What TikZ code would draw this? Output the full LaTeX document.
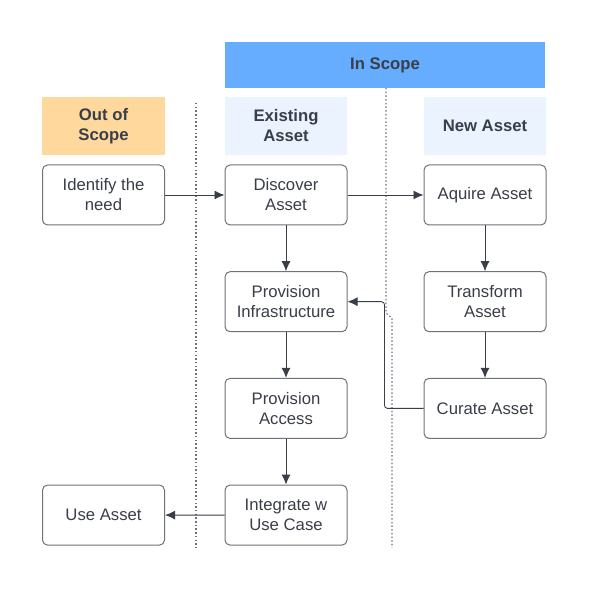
\documentclass[tikz,border=0pt]{standalone}
\usepackage{fontspec}
\setmainfont{Liberation Sans}
\usepackage{xcolor}
\usepackage{tikz}
\usetikzlibrary{arrows.meta}
\definecolor{scopeblue}{RGB}{102,173,255}
\definecolor{paleblue}{RGB}{235,243,255}
\definecolor{paleorange}{RGB}{255,216,158}
\definecolor{inkgray}{RGB}{58,62,72}
\definecolor{edgegray}{RGB}{110,114,122}
\definecolor{dotgray}{RGB}{110,114,120}

\begin{document}
\begin{tikzpicture}[x=1pt, y=1pt, node distance=106.7pt, >={Latex[length=10pt,width=9pt]}]
    \tikzstyle{stage} = [rectangle, rounded corners=5pt, minimum width=122pt, minimum height=60pt, inner sep=0pt, align=center, draw=edgegray, line width=1pt, fill=white, text=inkgray, font=\fontsize{16.7}{20}\selectfont]
    \tikzstyle{lane} = [rectangle, minimum width=122pt, minimum height=58pt, inner sep=0pt, align=center, text=inkgray, font=\fontsize{16.7}{20}\selectfont\bfseries]
    \tikzstyle{flow} = [->, draw=inkgray, line width=0.9pt]
    \tikzstyle{divider} = [draw=dotgray, line width=1.1pt, dash pattern=on 1.5pt off 2.2pt]

    \useasboundingbox (0,0) rectangle (591,591);

    % Lane headers
    \node [lane, fill=scopeblue, minimum width=320pt, minimum height=46pt] (inscope) at (385,526) {In Scope};
    \node [lane, fill=paleorange, minimum width=123pt] (outscope) at (103.5,465) {Out of\\Scope};
    \node [lane, fill=paleblue] (existing) at (286,465) {Existing\\Asset};
    \node [lane, fill=paleblue] (newasset) at (485,465) {New Asset};

    % Lane dividers
    \coordinate (lefttop) at (196,488);
    \coordinate (leftbot) at (196,43);
    \coordinate (righttop) at (386,503);
    \coordinate (rightbot) at (392,43);
    \draw [divider] (lefttop) -- (leftbot);
    \draw [divider] (righttop) -- (386,278) -- (392,273) -- (rightbot);

    % Stages
    \node [stage] (identify) at (103.5,396) {Identify the\\need};
    \node [stage] (discover) at (286,396) {Discover\\Asset};
    \node [stage] (aquire) at (485,396) {Aquire Asset};
    \node [stage, below of=discover] (infra) {Provision\\Infrastructure};
    \node [stage, below of=infra] (access) {Provision\\Access};
    \node [stage, below of=access] (integrate) {Integrate w\\Use Case};
    \node [stage, below of=aquire] (transform) {Transform\\Asset};
    \node [stage, below of=transform] (curate) {Curate Asset};
    \node [stage, below of=identify, node distance=320.1pt] (useasset) {Use Asset};

    % Arrows
    \draw [flow] (identify) -- (discover);
    \draw [flow] (discover) -- (aquire);
    \draw [flow] (discover) -- (infra);
    \draw [flow] (infra) -- (access);
    \draw [flow] (access) -- (integrate);
    \draw [flow] (integrate) -- (useasset);
    \draw [flow] (aquire) -- (transform);
    \draw [flow] (transform) -- (curate);
    \draw [flow, rounded corners=3pt] (curate.west) -- ++(-39,0) |- (infra.east);
\end{tikzpicture}
\end{document}
